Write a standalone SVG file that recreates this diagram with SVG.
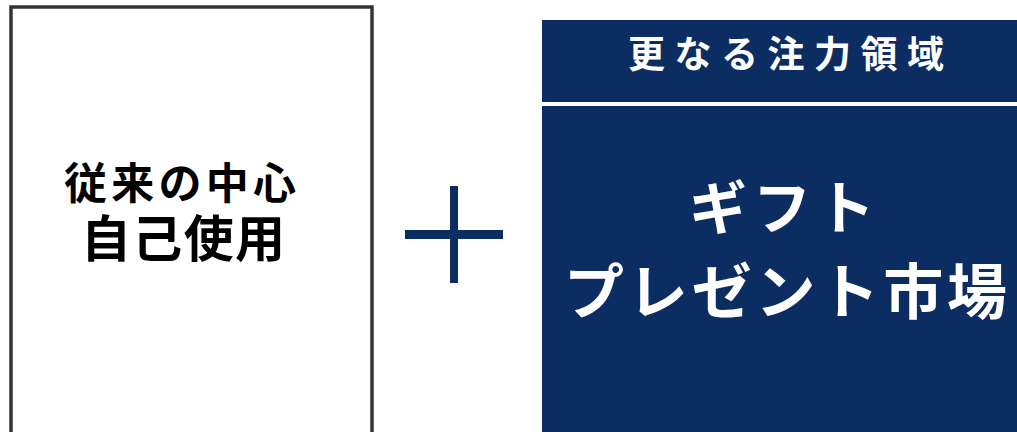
<svg xmlns="http://www.w3.org/2000/svg" width="1017" height="432" viewBox="0 0 1017 432">
<style>
.jp{font-family:"Noto Sans CJK JP","Noto Sans CJK SC",sans-serif;font-weight:bold}
.navy{fill:#0b2d62}
</style>
<rect width="1017" height="432" fill="#ffffff"/>
<g id="node-left">
<rect x="11" y="7" width="361" height="440" fill="#ffffff" stroke="#333333" stroke-width="3.5"/>
<text class="jp" x="64" y="199" font-size="43" textLength="232" lengthAdjust="spacing" fill="#000">従来の中心</text>
<text class="jp" x="81" y="257" font-size="50" textLength="204" lengthAdjust="spacing" fill="#000">自己使用</text>
</g>
<g id="node-plus">
<rect x="405" y="230" width="98" height="9" class="navy"/>
<rect x="450" y="186" width="8" height="97" class="navy"/>
</g>
<g id="node-right">
<rect x="542" y="20" width="480" height="82" class="navy"/>
<rect x="542" y="106" width="480" height="330" class="navy"/>
<text class="jp" x="628" y="68" font-size="37" textLength="316" lengthAdjust="spacing" fill="#fff">更なる注力領域</text>
<text class="jp" x="689" y="229" font-size="58" textLength="186" lengthAdjust="spacing" fill="#fff">ギフト</text>
<text class="jp" x="564" y="314" font-size="60" textLength="443" lengthAdjust="spacing" fill="#fff">プレゼント市場</text>
</g>
<g id="connectors"></g>
</svg>
